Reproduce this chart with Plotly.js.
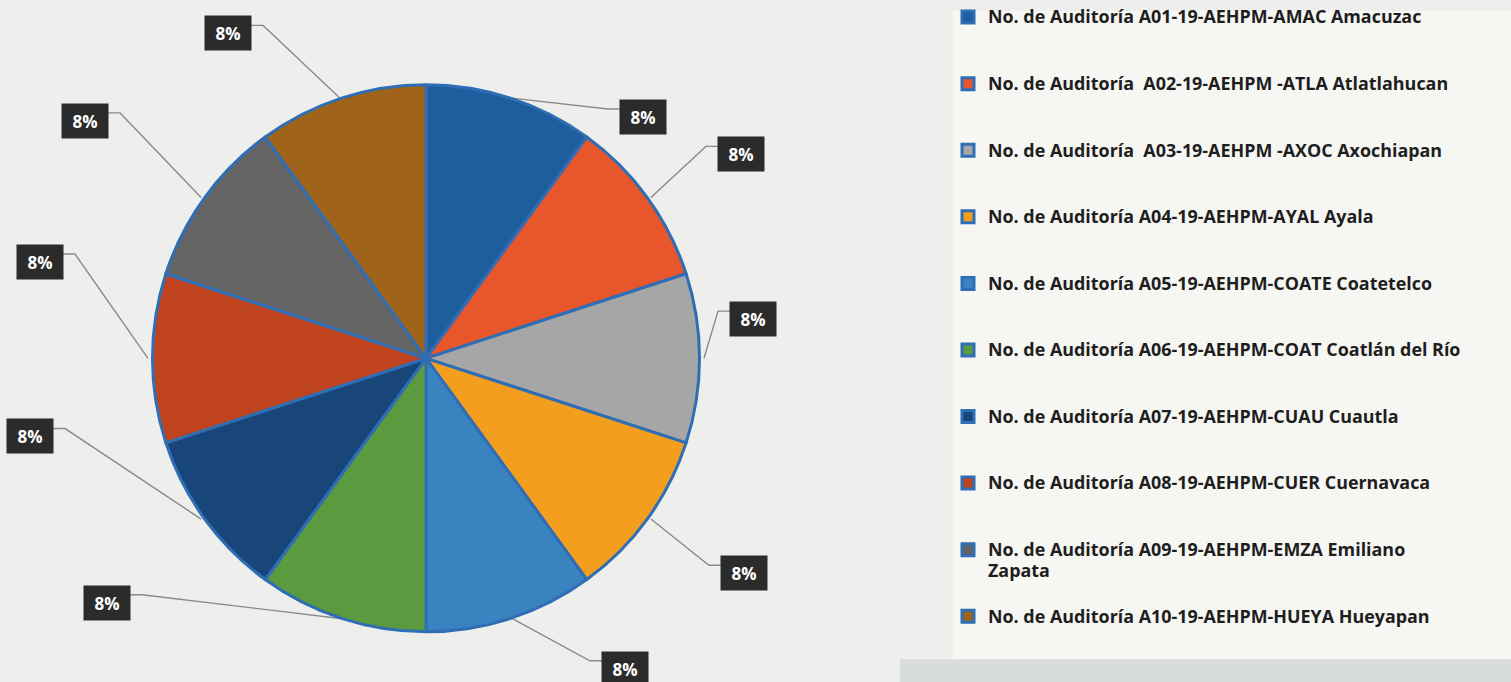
<!DOCTYPE html>
<html><head><meta charset="utf-8">
<script src="https://cdn.plot.ly/plotly-3.0.1.min.js"></script>
<style>html,body{margin:0;padding:0;background:#EEEFEC;} #chart{width:1511px;height:682px;}</style>
</head><body><div id="chart"></div>
<script>
// ---- data ----
const categories = [
  "No. de Auditoría A01-19-AEHPM-AMAC Amacuzac",
  "No. de Auditoría  A02-19-AEHPM -ATLA Atlatlahucan",
  "No. de Auditoría  A03-19-AEHPM -AXOC Axochiapan",
  "No. de Auditoría A04-19-AEHPM-AYAL Ayala",
  "No. de Auditoría A05-19-AEHPM-COATE Coatetelco",
  "No. de Auditoría A06-19-AEHPM-COAT Coatlán del Río",
  "No. de Auditoría A07-19-AEHPM-CUAU Cuautla",
  "No. de Auditoría A08-19-AEHPM-CUER Cuernavaca",
  "No. de Auditoría A09-19-AEHPM-EMZA Emiliano<br>Zapata",
  "No. de Auditoría A10-19-AEHPM-HUEYA Hueyapan"
];
const percentValues = [8, 8, 8, 8, 8, 8, 8, 8, 8, 8];
const sliceColors = ["#1F5E9E", "#E8562B", "#A6A6A6", "#F39E1F", "#3A83C1",
                     "#5B9A3F", "#18457A", "#BF431E", "#646464", "#A0631A"];

// ---- layout constants ----
const W = 1511, H = 682;
const CX = 426, CY = 353, R = 278;           // pie centre / radius in px
const domX = [(CX - R) / W, (CX + R) / W];
const domY = [(H - CY - R) / H, (H - CY + R) / H];
// label box offsets from the slice edge (px, screen direction)
const labelOffsets = [[131,19],[90,-44],[49,-40],[93,55],[113,51],
                      [-233,-16],[-171,-84],[-108,-98],[-116,-78],[-112,-66]];
const BOX_W = 46, BOX_H = 34, ELBOW = 12, ATTACH = -8;

const legendLabels = categories.map(c => {
  const parts = c.split('<br>');
  let s = parts.map(p => '<span style="font-size:17.9px">' + p + '</span>').join('<br>');
  for (let k = parts.length; k < 3; k++) s += '<br> ';
  return s;
});

const px2x = px => px / W, py2y = py => 1 - py / H;
const total = percentValues.reduce((a, b) => a + b, 0);
let cum = 0;
const annotations = [], leaderShapes = [];
percentValues.forEach((v, i) => {
  const th = (cum + v / 2) / total * 2 * Math.PI;
  cum += v;
  const px = CX + R * Math.sin(th), py = CY - R * Math.cos(th);
  const bx = px + labelOffsets[i][0], by = py + labelOffsets[i][1];
  const side = labelOffsets[i][0] >= 0 ? 1 : -1;
  const edgeX = bx - side * BOX_W / 2, lineY = by + ATTACH;
  const elbowX = edgeX - side * ELBOW;
  leaderShapes.push({
    type: 'path', xref: 'paper', yref: 'paper', layer: 'below',
    path: 'M' + px2x(px) + ',' + py2y(py) + ' L' + px2x(elbowX) + ',' + py2y(lineY) +
          ' L' + px2x(edgeX) + ',' + py2y(lineY),
    line: {color: '#8A8A8A', width: 1.4}
  });
  annotations.push({
    x: px2x(bx), y: py2y(by), xref: 'paper', yref: 'paper',
    xanchor: 'center', yanchor: 'middle', showarrow: false,
    text: '<b>' + v + '%</b>',
    bgcolor: '#2B2B2B', width: BOX_W - 4, height: BOX_H - 4, borderpad: 2,
    font: {family: 'Open Sans, sans-serif', size: 17, color: '#FFFFFF'}
  });
});

const trace = {
  type: 'pie',
  labels: legendLabels,
  values: percentValues,
  sort: false,
  direction: 'clockwise',
  rotation: 0,
  textinfo: 'none',
  hoverinfo: 'none',
  domain: {x: domX, y: domY},
  marker: {colors: sliceColors, line: {color: '#2F6EB5', width: 3}}
};

const layout = {
  width: W, height: H,
  margin: {l: 0, r: 0, t: 0, b: 0},
  paper_bgcolor: '#EEEFEC',
  showlegend: true,
  legend: {
    x: 948 / W, xanchor: 'left', y: 1.017, yanchor: 'top',
    valign: 'top', bgcolor: 'rgba(0,0,0,0)', maxheight: 900,
    font: {family: 'Open Sans, sans-serif', size: 16.3, color: '#1E1E1E', weight: 700},
    itemclick: false, itemdoubleclick: false
  },
  shapes: [
    {type: 'rect', xref: 'paper', yref: 'paper', x0: 953 / W, x1: 1, y0: (H - 659) / H, y1: 1,
     fillcolor: '#F6F6F3', line: {width: 0}, layer: 'below'},
    {type: 'rect', xref: 'paper', yref: 'paper', x0: 900 / W, x1: 1, y0: 0, y1: (H - 659) / H,
     fillcolor: '#D8DCDB', line: {width: 0}, layer: 'below'}
  ].concat(leaderShapes),
  annotations: annotations
};

Plotly.newPlot('chart', [trace], layout, {displayModeBar: false, staticPlot: true});
</script>
</body></html>
